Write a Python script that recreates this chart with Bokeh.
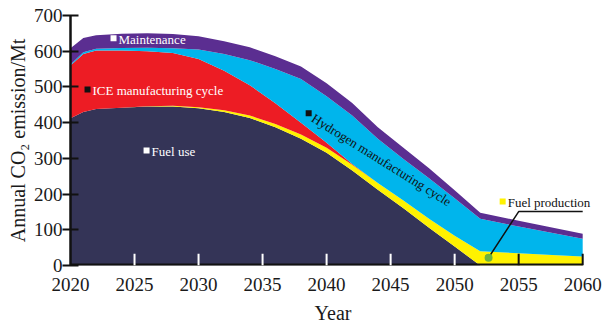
from bokeh.plotting import figure
from bokeh.models import ColumnDataSource, Range1d, FixedTicker, Label
from bokeh.embed import file_html
from bokeh.resources import INLINE
import math

# ---- data ----
years = [2020, 2021, 2022, 2024, 2026, 2028, 2030, 2032, 2034, 2036, 2038, 2040,
         2042, 2044, 2046, 2048, 2050, 2052, 2055, 2060]
fuel_use = [412, 430, 438, 442, 445, 445, 440, 430, 413, 387, 355, 316,
            266, 212, 160, 106, 53, 0, 0, 0]
fuel_production = [0, 0, 0, 0, 1, 2, 3, 5, 7, 9, 12, 14,
                   16, 19, 22, 25, 30, 40, 34, 25]
ice_manufacturing = [148, 162, 164, 160, 154, 148, 135, 110, 85, 58, 33, 14,
                     2, 0, 0, 0, 0, 0, 0, 0]
hydrogen_manufacturing = [3, 5, 5, 7, 10, 13, 27, 47, 70, 96, 122, 130,
                          136, 124, 116, 113, 105, 91, 75, 50]
maintenance = [45, 40, 38, 40, 40, 40, 37, 36, 36, 36, 35, 36,
               35, 32, 32, 28, 23, 17, 16, 14]

series_colors = ["#343457", "#fff200", "#ed1c24", "#00b5ec", "#5b2e91"]

x_ticks = [2020, 2025, 2030, 2035, 2040, 2045, 2050, 2055, 2060]
y_ticks = [0, 100, 200, 300, 400, 500, 600, 700]
white_tick_years = [2025, 2030, 2035, 2040, 2045, 2050]
black_tick_years = [2055, 2060]

FONT = "Liberation Serif"

src = ColumnDataSource(dict(
    year=years, fuel_use=fuel_use, fuel_production=fuel_production,
    ice=ice_manufacturing, hydrogen=hydrogen_manufacturing, maintenance=maintenance))

# x range runs a little past 2060 so the "Fuel production" label is not clipped
p = figure(width=608, height=330, output_backend="svg", toolbar_location=None,
           x_range=Range1d(x_ticks[0], x_ticks[-1] + 1), y_range=Range1d(0, 700),
           min_border_left=70, min_border_right=13, min_border_top=15, min_border_bottom=65)
p.outline_line_color = None
p.grid.visible = False

p.varea_stack(stackers=["fuel_use", "fuel_production", "ice", "hydrogen", "maintenance"],
              x="year", color=series_colors, source=src)

# bottom axis line only from first to last tick
p.segment(x0=[x_ticks[0]], y0=[0], x1=[x_ticks[-1]], y1=[0], line_color="#111111", line_width=4)

# inward x ticks: white over the fill, black over the background
tick_len = 33
p.segment(x0=white_tick_years, y0=[0] * len(white_tick_years),
          x1=white_tick_years, y1=[tick_len] * len(white_tick_years),
          line_color="white", line_width=2)
p.segment(x0=black_tick_years, y0=[0] * len(black_tick_years),
          x1=black_tick_years, y1=[tick_len] * len(black_tick_years),
          line_color="#111111", line_width=2)

# Fuel production leader line + marker
p.line(x=[2052.65, 2055.0, 2060.0], y=[22, 151, 151], line_color="#111111", line_width=1.5)
p.scatter(x=[2052.65], y=[22], size=8, marker="circle", fill_color="#6cb33f", line_color=None)

# annotation squares
sq_x = [2023.36, 2021.33, 2025.94, 2038.6, 2053.75]
sq_y = [636, 493, 322, 426, 179]
sq_col = ["white", "#111111", "white", "#111111", "#fff200"]
p.scatter(x=sq_x, y=sq_y, marker="square", size=6, fill_color=sq_col, line_color=None)

# annotation texts
def add_label(x, y, text, color, angle=0.0, dx=5, dy=-1):
    p.add_layout(Label(x=x, y=y, text=text, text_color=color, text_font=FONT,
                       text_font_size="13px", text_align="left", text_baseline="middle",
                       angle=angle, x_offset=dx, y_offset=dy))

add_label(2023.36, 636, "Maintenance", "white")
add_label(2021.33, 493, "ICE manufacturing cycle", "white")
add_label(2025.94, 322, "Fuel use", "white")
add_label(2053.75, 179, "Fuel production", "#111111")
ang = math.radians(32)
add_label(2038.6, 426, "Hydrogen manufacturing cycle", "#111111", angle=-ang,
          dx=5 * math.cos(ang), dy=-5 * math.sin(ang) - 1)

# axes
xa = p.xaxis[0]
xa.ticker = FixedTicker(ticks=x_ticks)
xa.minor_tick_line_color = None
xa.major_tick_line_color = None
xa.major_tick_in = 0
xa.major_tick_out = 0
xa.axis_line_color = None
xa.major_label_text_font = FONT
xa.major_label_text_font_size = "19px"
xa.major_label_text_color = "#1a1a1a"
xa.major_label_standoff = 12
xa.axis_label = "Year"
xa.axis_label_text_font = FONT
xa.axis_label_text_font_size = "20px"
xa.axis_label_text_font_style = "normal"
xa.axis_label_text_color = "#1a1a1a"
xa.axis_label_standoff = 8

ya = p.yaxis[0]
ya.ticker = FixedTicker(ticks=y_ticks)
ya.minor_tick_line_color = None
ya.major_tick_in = 8
ya.major_tick_out = 8
ya.major_tick_line_color = "#111111"
ya.major_tick_line_width = 2
ya.axis_line_color = "#111111"
ya.axis_line_width = 2.5
ya.major_label_text_font = FONT
ya.major_label_text_font_size = "19px"
ya.major_label_text_color = "#1a1a1a"
ya.major_label_standoff = 0
ya.axis_label = "Annual CO\u2082 emission/Mt"
ya.axis_label_text_font = FONT
ya.axis_label_text_font_size = "20px"
ya.axis_label_text_font_style = "normal"
ya.axis_label_text_color = "#1a1a1a"
ya.axis_label_standoff = 2

open("out.html", "w").write(file_html(p, INLINE))
